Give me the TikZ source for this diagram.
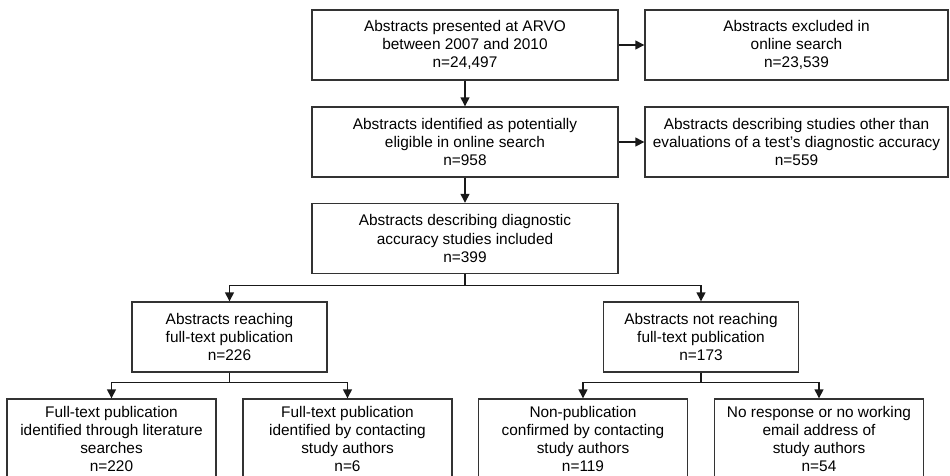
\documentclass[tikz,border=0pt]{standalone}
\usepackage{fontspec}
\setmainfont{Liberation Sans}
\usepackage{tikz}
\usetikzlibrary{arrows.meta,positioning}

\begin{document}
\begin{tikzpicture}[
  x=1pt, y=-1pt,
  font=\fontsize{15.4}{18.2}\selectfont,
  box/.style={draw=black!80, line width=1.4pt, align=center, inner sep=0pt, fill=white},
  main/.style={box, minimum width=306pt, minimum height=70pt},
  excl/.style={box, minimum width=303pt, minimum height=70pt},
  mid/.style={box, minimum width=195pt, minimum height=70pt},
  leaf/.style={box, minimum width=209pt, minimum height=80pt},
  arr/.style={-{Triangle[length=9pt,width=9pt]}, line width=1.4pt, black!90}]
\useasboundingbox (0,0) rectangle (950,475);
\clip (0,0) rectangle (950,475);
% main column
\node[main] (arvo) at (465,45)    {Abstracts presented at ARVO\\between 2007 and 2010\\n=24,497};
\node[main] (elig) at (465,142)   {Abstracts identified as potentially\\eligible in online search\\n=958};
\node[main] (incl) at (465,238.5) {Abstracts describing diagnostic\\accuracy studies included\\n=399};
% exclusions
\node[excl] (excla) at (796.5,45)  {Abstracts excluded in\\online search\\n=23,539};
\node[excl] (exclb) at (796.5,142) {Abstracts describing studies other than\\evaluations of a test's diagnostic accuracy\\n=559};
% branches
\node[mid] (reach)    at (229.5,337) {Abstracts reaching\\full-text publication\\n=226};
\node[mid] (notreach) at (701,337)   {Abstracts not reaching\\full-text publication\\n=173};
% leaves
\node[leaf] (lit)     at (111.5,439) {Full-text publication\\identified through literature\\searches\\n=220};
\node[leaf] (contact) at (347.5,439) {Full-text publication\\identified by contacting\\study authors\\n=6};
\node[leaf] (confirm) at (583,439)   {Non-publication\\confirmed by contacting\\study authors\\n=119};
\node[leaf] (noresp)  at (819,439)   {No response or no working\\email address of\\study authors\\n=54};
% arrows
\draw[arr] (arvo) -- (excla);
\draw[arr] (elig) -- (exclb);
\draw[arr] (arvo) -- (elig);
\draw[arr] (elig) -- (incl);
\draw[arr] (incl.south) -- ++(0,11) -| (reach.north);
\draw[arr] (incl.south) -- ++(0,11) -| (notreach.north);
\draw[arr] (reach.south) -- ++(0,10) -| (lit.north);
\draw[arr] (reach.south) -- ++(0,10) -| (contact.north);
\draw[arr] (notreach.south) -- ++(0,10) -| (confirm.north);
\draw[arr] (notreach.south) -- ++(0,10) -| (noresp.north);
\end{tikzpicture}
\end{document}
